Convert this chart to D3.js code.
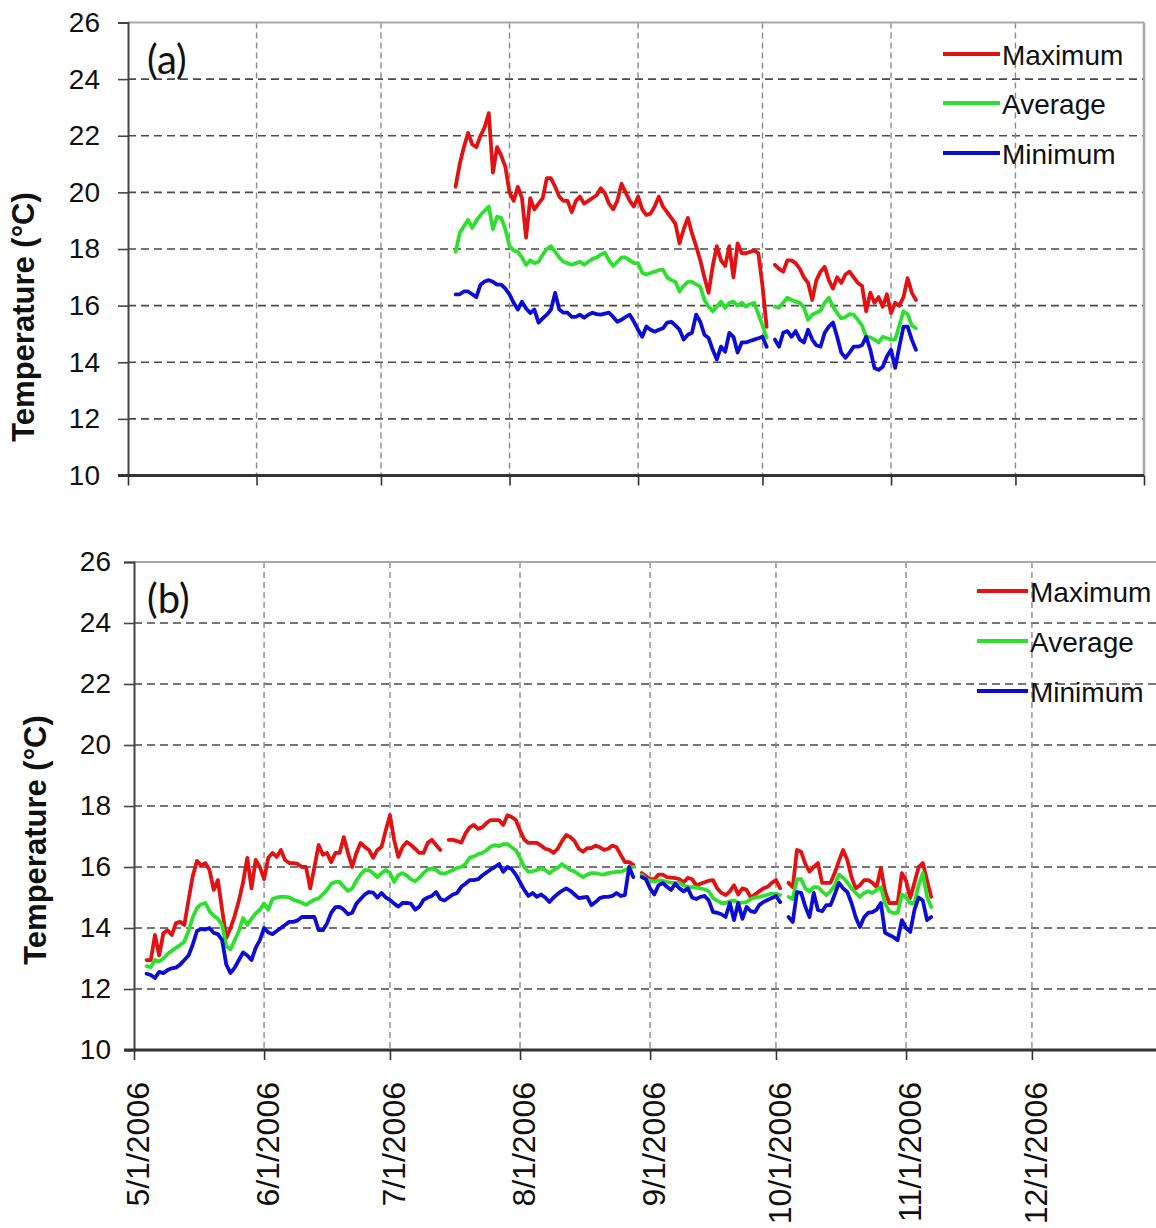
<!DOCTYPE html>
<html><head><meta charset="utf-8">
<script src="https://cdn.jsdelivr.net/npm/d3@7"></script>
<style>body{margin:0;background:#fff}svg{display:block}</style>
</head><body>
<svg id="chart" width="1156" height="1228"></svg>
<script>
// ---------- data ----------
const seriesNames = ["Maximum", "Average", "Minimum"];
const seriesColors = ["#e31212", "#2ee02e", "#0c0cd6"];
const yTickValues = [10, 12, 14, 16, 18, 20, 22, 24, 26];
const monthTickLabels = ["5/1/2006","6/1/2006","7/1/2006","8/1/2006","9/1/2006","10/1/2006","11/1/2006","12/1/2006"];
const yTitle = "Temperature (\u00b0C)";

// panel (a): daily values starting 2006-07-19 (null = no data)
const aStart = "2006-07-19";
const aMax = [20.2,21.0,21.6,22.1,21.7,21.6,22.0,22.3,22.8,20.7,
  21.6,21.3,20.9,20.0,19.7,20.2,19.8,18.4,19.8,19.4,
  19.6,19.8,20.5,20.5,20.2,19.85,19.7,19.7,19.3,19.7,
  19.85,19.6,19.7,19.8,19.9,20.15,19.97,19.6,19.4,19.7,
  20.3,20.0,19.7,19.5,19.85,19.4,19.2,19.25,19.5,19.85,
  19.5,19.3,19.1,18.9,18.2,18.7,19.1,18.55,18.1,17.6,
  17.0,16.45,17.4,18.1,17.6,17.4,18.1,17.0,18.2,17.85,
  17.85,17.9,17.95,17.85,16.7,15.25,
  null,
  17.44,17.3,17.2,17.6,17.6,17.5,17.3,17.0,16.8,16.2,
  16.9,17.2,17.37,16.9,16.6,17.0,16.8,17.1,17.2,17.0,
  16.8,16.7,15.8,16.46,16.1,16.3,15.96,16.4,15.74,16.1,
  16.0,16.3,16.97,16.46,16.2];
const aAvg = [17.9,18.57,18.8,19.03,18.75,19.0,19.2,19.35,19.5,18.7,
  19.14,19.1,18.7,18.1,17.95,17.9,17.7,17.44,17.6,17.5,
  17.55,17.8,18.0,18.1,17.9,17.7,17.55,17.5,17.44,17.5,
  17.55,17.44,17.55,17.65,17.7,17.8,17.87,17.6,17.4,17.55,
  17.7,17.7,17.6,17.5,17.5,17.16,17.1,17.15,17.2,17.25,
  17.27,17.0,16.9,16.84,16.5,16.7,16.84,16.84,16.75,16.67,
  16.2,15.97,15.8,15.97,16.14,15.92,16.1,16.14,16.0,16.1,
  15.97,16.05,16.1,15.7,15.3,14.87,
  null,
  15.96,15.93,16.1,16.28,16.2,16.14,16.1,15.93,15.5,15.68,
  15.75,15.82,16.1,16.28,15.96,15.74,15.55,15.6,15.7,15.68,
  15.5,15.3,14.9,14.88,14.8,14.7,14.9,14.85,14.8,14.8,
  15.3,15.8,15.7,15.3,15.2];
const aMin = [16.4,16.4,16.5,16.5,16.4,16.3,16.74,16.85,16.9,16.84,
  16.74,16.74,16.6,16.4,16.1,15.86,16.14,15.9,15.74,15.86,
  15.4,15.55,15.68,15.86,16.45,15.86,15.75,15.75,15.6,15.6,
  15.68,15.57,15.68,15.75,15.7,15.68,15.72,15.75,15.6,15.43,
  15.5,15.6,15.68,15.43,15.15,14.9,15.26,15.15,15.08,15.15,
  15.2,15.4,15.43,15.3,15.15,14.8,14.97,15.04,15.68,15.43,
  14.97,14.86,14.44,14.1,14.55,14.37,15.04,14.9,14.34,14.7,
  14.7,14.75,14.8,14.85,14.9,14.55,
  null,
  14.8,14.55,15.04,15.1,14.9,15.1,14.8,14.7,15.15,14.8,
  14.6,14.55,15.04,15.26,15.4,14.9,14.34,14.16,14.34,14.55,
  14.55,14.6,14.9,14.44,13.8,13.73,13.84,14.2,14.44,13.8,
  14.55,15.26,15.26,14.8,14.44];

// panel (b): daily values starting 2006-05-04 (null = no data)
const bStart = "2006-05-04";
const bMax = [12.95,12.95,13.77,13.1,13.83,13.93,13.77,14.16,14.2,14.1,
  14.92,15.7,16.2,16.05,16.13,15.9,15.25,15.57,14.6,13.67,
  14.0,14.4,14.9,15.5,16.3,15.3,16.23,16.0,15.6,16.3,
  16.46,16.33,16.56,16.23,16.13,16.13,16.1,16.0,16.0,15.3,
  16.0,16.72,16.4,16.46,16.16,16.46,16.46,16.98,16.46,16.0,
  16.46,16.79,16.66,16.56,16.3,16.56,16.66,17.2,17.7,16.89,
  16.33,16.66,16.82,16.72,16.6,16.46,16.46,16.79,16.89,16.72,
  16.56,
  null,
  16.89,16.89,16.85,16.8,17.1,17.3,17.38,17.25,17.3,17.44,
  17.54,17.54,17.54,17.38,17.7,17.64,17.54,17.2,16.9,16.79,
  16.79,16.79,16.7,16.6,16.56,16.46,16.6,16.85,17.05,16.98,
  16.85,16.6,16.5,16.62,16.62,16.7,16.65,16.56,16.6,16.7,
  16.65,16.4,16.16,16.16,16.07,
  null,
  15.8,15.7,15.6,15.6,15.75,15.75,15.67,15.65,15.64,15.6,
  15.5,15.65,15.6,15.4,15.45,15.5,15.55,15.57,15.3,15.15,
  15.08,15.2,15.4,15.1,15.3,15.25,15.0,15.1,15.2,15.3,
  15.35,15.48,15.57,15.3,
  null,
  15.48,15.34,16.56,16.5,16.1,15.85,16.0,16.13,15.48,15.48,
  15.48,15.8,16.2,16.56,16.23,15.67,15.3,15.4,15.57,15.57,
  15.48,15.34,15.97,15.2,14.82,14.82,14.82,15.8,15.55,14.98,
  15.48,16.0,16.13,15.57,15.02];
const bAvg = [12.75,12.72,12.95,12.9,13.0,13.15,13.25,13.35,13.44,13.55,
  13.9,14.35,14.65,14.78,14.82,14.55,14.4,14.3,14.1,13.4,
  13.3,13.6,13.9,14.33,14.1,14.3,14.48,14.6,14.8,14.6,
  14.95,15.0,15.02,15.02,15.0,14.92,14.88,14.83,14.76,14.85,
  14.93,14.97,15.1,15.25,15.45,15.51,15.51,15.35,15.22,15.3,
  15.55,15.75,15.9,15.9,15.8,15.67,15.8,15.9,15.8,15.51,
  15.74,15.8,15.72,15.6,15.53,15.65,15.8,15.92,15.95,15.9,
  15.8,15.78,15.84,15.9,15.97,16.0,16.1,16.3,16.35,16.42,
  16.46,16.55,16.67,16.72,16.68,16.75,16.75,16.65,16.55,16.3,
  16.0,15.84,15.86,15.9,15.95,15.9,15.8,15.9,15.98,16.1,
  16.0,15.9,15.85,15.75,15.67,15.75,15.8,15.8,15.77,15.75,
  15.8,15.82,15.84,15.84,15.9,15.97,16.0,
  null,
  15.74,15.6,15.55,15.52,15.56,15.55,15.51,15.49,15.48,15.48,
  15.4,15.34,15.34,15.33,15.3,15.27,15.2,14.98,14.9,14.82,
  14.82,14.88,14.9,14.83,14.83,14.85,14.95,15.0,15.02,15.05,
  15.09,15.13,15.12,15.08,
  null,
  15.02,14.95,15.6,15.6,15.3,15.2,15.34,15.34,15.2,15.08,
  15.2,15.4,15.75,15.65,15.5,15.3,15.15,15.02,15.15,15.2,
  15.15,15.25,15.34,14.8,14.55,14.49,14.5,15.1,15.0,14.82,
  14.82,15.4,15.8,15.02,14.69];
const bMin = [12.5,12.46,12.36,12.56,12.52,12.62,12.68,12.7,12.8,12.95,
  13.1,13.45,13.9,13.97,13.95,14.0,13.84,13.8,13.6,12.8,
  12.52,12.7,12.95,13.2,13.1,12.95,13.35,13.6,14.0,13.85,
  13.8,13.9,14.0,14.1,14.2,14.2,14.25,14.36,14.36,14.36,
  14.36,13.93,13.93,14.15,14.5,14.68,14.69,14.6,14.45,14.5,
  14.8,14.95,15.1,15.18,15.16,15.0,15.15,15.0,14.92,14.8,
  14.7,14.82,14.82,14.8,14.6,14.7,14.92,15.0,15.05,15.18,
  14.95,14.9,15.0,15.1,15.15,15.35,15.45,15.57,15.57,15.6,
  15.72,15.82,15.92,16.0,16.1,15.84,16.0,15.93,15.75,15.5,
  15.25,15.05,15.15,15.02,15.1,15.0,14.85,15.0,15.12,15.22,
  15.3,15.22,15.1,14.98,15.0,15.02,14.75,14.85,14.98,15.02,
  15.02,15.05,15.15,15.05,15.08,16.0,15.67,
  null,
  15.67,15.6,15.3,15.1,15.4,15.48,15.35,15.25,15.45,15.3,
  15.2,15.3,15.0,14.95,15.02,15.05,14.9,14.52,14.5,14.45,
  14.36,14.82,14.26,14.82,14.3,14.69,14.55,14.52,14.75,14.85,
  14.92,14.98,15.05,14.85,
  null,
  14.36,14.2,15.18,15.15,14.7,14.36,15.15,14.59,14.55,14.75,
  14.75,15.1,15.48,15.3,15.18,14.82,14.35,14.03,14.35,14.5,
  14.52,14.6,14.82,13.84,13.77,13.7,13.6,14.26,14.0,13.87,
  14.59,15.0,14.9,14.26,14.36];

// ---------- drawing ----------
const svg = d3.select("#chart");
const DAY = 86400000;
const domainStart = Date.UTC(2006, 4, 1), domainEnd = Date.UTC(2007, 0, 1);
const monthDates = d3.range(4, 12).map(m => new Date(Date.UTC(2006, m, 1)));

function toPoints(start, arr) {
  const t0 = Date.parse(start + "T00:00:00Z");
  return arr.map((v, i) => ({ date: new Date(t0 + i * DAY), v }));
}

const panels = [
  { tag: "(a)", start: aStart, data: [aMax, aAvg, aMin],
    x0: 128, x1: 1144, yTop: 22.5, yBot: 475.5, yLabelX: 100, titleX: 34, titleY: 317,
    tagX: 147, tagY: 74, legX1: 943, legX2: 1000, legTextX: 1002, legY: [54, 103, 153],
    xLabels: false, rightBorder: true },
  { tag: "(b)", start: bStart, data: [bMax, bAvg, bMin],
    x0: 134, x1: 1162, yTop: 562, yBot: 1050, yLabelX: 111, titleX: 46, titleY: 840,
    tagX: 147, tagY: 613, legX1: 977, legX2: 1028, legTextX: 1030, legY: [591, 641, 691],
    xLabels: true, rightBorder: false }
];

panels.forEach(p => {
  const x = d3.scaleUtc().domain([domainStart, domainEnd]).range([p.x0, p.x1]);
  const y = d3.scaleLinear().domain([10, 26]).range([p.yBot, p.yTop]);
  const g = svg.append("g");
  const xEnd = Math.min(p.x1, 1156);

  // horizontal dashed grid
  g.selectAll(".hg").data(yTickValues.filter(v => v > 10 && v < 26)).join("line")
    .attr("x1", p.x0).attr("x2", xEnd).attr("y1", d => y(d)).attr("y2", d => y(d))
    .attr("stroke", "#4a4a4a").attr("stroke-width", 1.6).attr("stroke-dasharray", "8,5");
  // vertical dashed grid
  g.selectAll(".vg").data(monthDates.slice(1)).join("line")
    .attr("x1", d => x(d)).attr("x2", d => x(d)).attr("y1", p.yTop).attr("y2", p.yBot)
    .attr("stroke", "#8a8a8a").attr("stroke-width", 1.4).attr("stroke-dasharray", "6,4");
  // frame top / right
  g.append("line").attr("x1", p.x0).attr("x2", xEnd).attr("y1", p.yTop).attr("y2", p.yTop)
    .attr("stroke", "#a8a8a8").attr("stroke-width", 2);
  if (p.rightBorder) g.append("line").attr("x1", p.x1).attr("x2", p.x1).attr("y1", p.yTop).attr("y2", p.yBot)
    .attr("stroke", "#a8a8a8").attr("stroke-width", 2.5);

  // y axis
  const yAxis = d3.axisLeft(y).tickValues(yTickValues).tickSize(10).tickPadding(p.x0 - 10 - p.yLabelX).tickFormat(d3.format("d"));
  const ya = g.append("g").attr("transform", `translate(${p.x0},0)`).call(yAxis);
  ya.select(".domain").attr("stroke", "#444").attr("stroke-width", 2);
  ya.selectAll(".tick line").attr("stroke", "#444").attr("stroke-width", 1.6);
  ya.selectAll(".tick text").attr("font-family", "Liberation Sans, Arial, sans-serif")
    .attr("font-size", 28).attr("fill", "#111");

  // x axis
  const xAxis = d3.axisBottom(x).tickValues(monthDates.concat(p.rightBorder ? [new Date(domainEnd)] : []))
    .tickSize(10).tickFormat("");
  const xa = g.append("g").attr("transform", `translate(0,${p.yBot})`).call(xAxis);
  xa.select(".domain").attr("stroke", "#333").attr("stroke-width", 3).attr("d", `M${p.x0 - 10},0H${xEnd}`);
  xa.selectAll(".tick line").attr("stroke", "#333").attr("stroke-width", 1.6);

  if (p.xLabels) {
    g.selectAll(".xl").data(monthDates).join("text")
      .attr("transform", (d) => `translate(${x(d) + 4},${p.yBot + 32}) rotate(-90)`)
      .attr("dy", "0.35em").attr("text-anchor", "end")
      .attr("font-family", "Liberation Sans, Arial, sans-serif").attr("font-size", 32).attr("fill", "#111")
      .text((d, i) => monthTickLabels[i]);
  }

  // y title
  g.append("text").attr("transform", `translate(${p.titleX},${p.titleY}) rotate(-90)`)
    .attr("text-anchor", "middle").attr("font-family", "Liberation Sans, Arial, sans-serif")
    .attr("font-weight", "bold").attr("font-size", 31).attr("fill", "#111").text(yTitle);

  // panel tag
  g.append("text").attr("x", p.tagX).attr("y", p.tagY).attr("font-family", "Lato, 'Open Sans', sans-serif")
    .attr("font-size", 40).attr("fill", "#111").text(p.tag);

  // series lines
  const line = d3.line().defined(d => d.v != null).x(d => x(d.date)).y(d => y(d.v));
  p.data.forEach((arr, i) => {
    g.append("path").datum(toPoints(p.start, arr)).attr("d", line)
      .attr("fill", "none").attr("stroke", seriesColors[i]).attr("stroke-width", 3.8)
      .attr("stroke-linejoin", "round").attr("stroke-linecap", "round");
  });

  // legend
  seriesNames.forEach((name, i) => {
    g.append("line").attr("x1", p.legX1).attr("x2", p.legX2).attr("y1", p.legY[i]).attr("y2", p.legY[i])
      .attr("stroke", seriesColors[i]).attr("stroke-width", 4);
    g.append("text").attr("x", p.legTextX).attr("y", p.legY[i] + 11)
      .attr("font-family", "Liberation Sans, Arial, sans-serif").attr("font-size", 28).attr("fill", "#111").text(name);
  });
});
</script>
</body></html>
